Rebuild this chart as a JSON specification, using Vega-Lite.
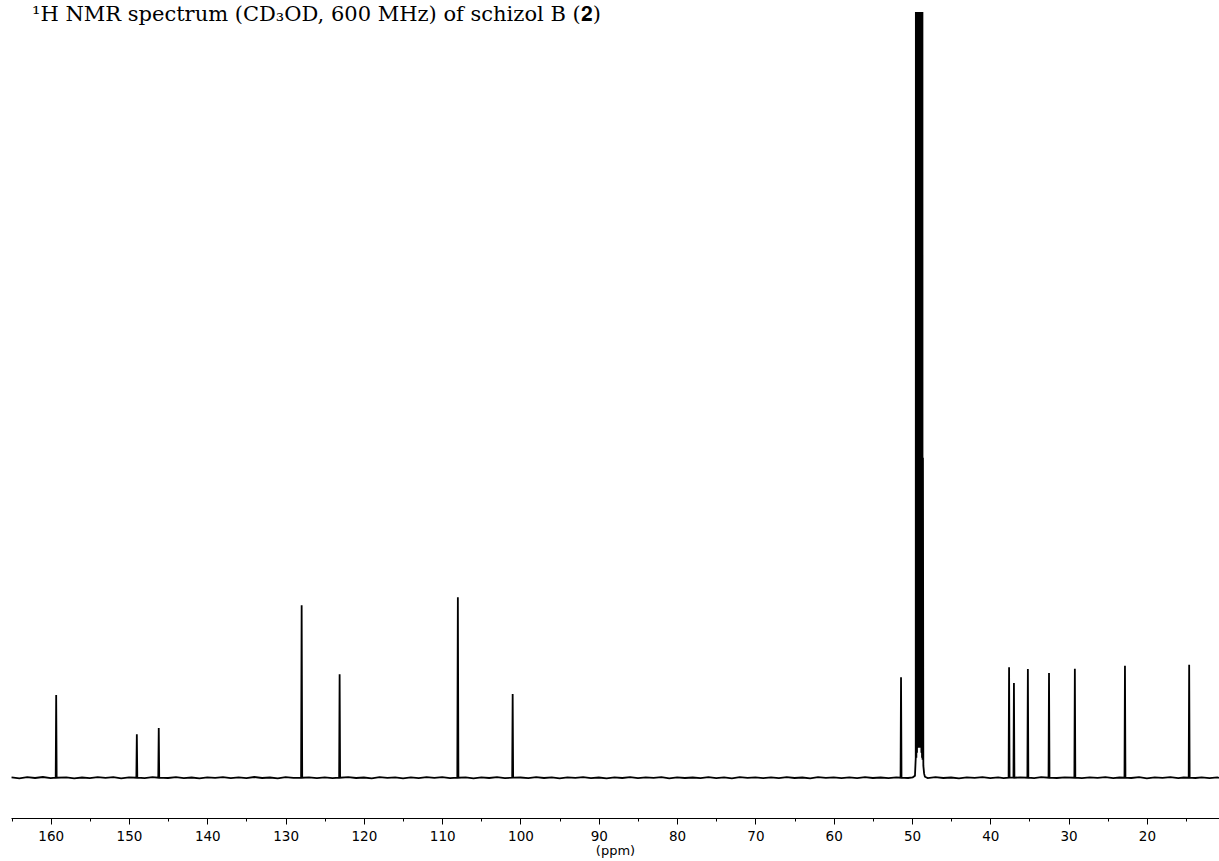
{
  "$schema": "https://vega.github.io/schema/vega-lite/v6.json",
  "width": 1208,
  "height": 806,
  "autosize": {"type": "none"},
  "padding": {"left": 11, "top": 12, "right": 0, "bottom": 43},
  "background": "white",
  "config": {"view": {"stroke": null}},
  "title": {
    "text": "¹H NMR spectrum (CD₃OD, 600 MHz) of schizol B (𝟐)",
    "anchor": "start",
    "frame": "group",
    "orient": "top",
    "baseline": "alphabetic",
    "offset": 0,
    "dy": 30,
    "dx": 21,
    "font": "DejaVu Serif",
    "fontSize": 21,
    "fontWeight": "normal",
    "color": "black"
  },
  "data": {
    "values": [
      {"ppm": 165, "i": 0.3}, {"ppm": 164, "i": -0.6}, {"ppm": 163, "i": 0.5}, {"ppm": 162, "i": -0.3}, {"ppm": 161, "i": 0.7}, {"ppm": 160, "i": -0.5},
      {"ppm": 159.36, "i": 0}, {"ppm": 159.3, "i": 82.7}, {"ppm": 159.24, "i": 0},
      {"ppm": 158, "i": 0.4}, {"ppm": 157, "i": -0.7}, {"ppm": 156, "i": 0.2}, {"ppm": 155, "i": -0.4}, {"ppm": 154, "i": 0.6}, {"ppm": 153, "i": -0.2}, {"ppm": 152, "i": 0.5}, {"ppm": 151, "i": -0.6}, {"ppm": 150, "i": 0.3},
      {"ppm": 149.06, "i": 0}, {"ppm": 149.0, "i": 43.4}, {"ppm": 148.94, "i": 0},
      {"ppm": 148, "i": -0.4}, {"ppm": 147, "i": 0.5},
      {"ppm": 146.26, "i": 0}, {"ppm": 146.2, "i": 49.7}, {"ppm": 146.14, "i": 0},
      {"ppm": 145, "i": -0.3}, {"ppm": 144, "i": 0.6}, {"ppm": 143, "i": -0.5}, {"ppm": 142, "i": 0.2}, {"ppm": 141, "i": -0.7}, {"ppm": 140, "i": 0.4}, {"ppm": 139, "i": -0.2}, {"ppm": 138, "i": 0.6}, {"ppm": 137, "i": -0.5}, {"ppm": 136, "i": 0.3}, {"ppm": 135, "i": -0.4}, {"ppm": 134, "i": 0.7}, {"ppm": 133, "i": -0.3}, {"ppm": 132, "i": 0.2}, {"ppm": 131, "i": -0.6}, {"ppm": 130, "i": 0.5}, {"ppm": 129, "i": -0.2},
      {"ppm": 128.02, "i": 0}, {"ppm": 127.95, "i": 172.4}, {"ppm": 127.88, "i": 0},
      {"ppm": 127, "i": 0.4}, {"ppm": 126, "i": -0.5}, {"ppm": 125, "i": 0.3}, {"ppm": 124, "i": -0.4},
      {"ppm": 123.16, "i": 0}, {"ppm": 123.1, "i": 103.4}, {"ppm": 123.04, "i": 0},
      {"ppm": 122, "i": 0.6}, {"ppm": 121, "i": -0.3}, {"ppm": 120, "i": 0.2}, {"ppm": 119, "i": -0.6}, {"ppm": 118, "i": 0.5}, {"ppm": 117, "i": -0.2}, {"ppm": 116, "i": 0.4}, {"ppm": 115, "i": -0.7}, {"ppm": 114, "i": 0.3}, {"ppm": 113, "i": -0.4}, {"ppm": 112, "i": 0.6}, {"ppm": 111, "i": -0.2}, {"ppm": 110, "i": 0.5}, {"ppm": 109, "i": -0.5},
      {"ppm": 108.07, "i": 0}, {"ppm": 108.0, "i": 180.4}, {"ppm": 107.93, "i": 0},
      {"ppm": 107, "i": 0.3}, {"ppm": 106, "i": -0.6}, {"ppm": 105, "i": 0.4}, {"ppm": 104, "i": -0.3}, {"ppm": 103, "i": 0.6}, {"ppm": 102, "i": -0.4},
      {"ppm": 101.06, "i": 0}, {"ppm": 101.0, "i": 83.7}, {"ppm": 100.94, "i": 0},
      {"ppm": 100, "i": 0.2}, {"ppm": 99, "i": -0.5}, {"ppm": 98, "i": 0.6}, {"ppm": 97, "i": -0.3}, {"ppm": 96, "i": 0.4}, {"ppm": 95, "i": -0.6}, {"ppm": 94, "i": 0.3}, {"ppm": 93, "i": -0.2}, {"ppm": 92, "i": 0.5}, {"ppm": 91, "i": -0.4}, {"ppm": 90, "i": 0.2}, {"ppm": 89, "i": -0.6}, {"ppm": 88, "i": 0.4}, {"ppm": 87, "i": -0.3}, {"ppm": 86, "i": 0.6}, {"ppm": 85, "i": -0.5}, {"ppm": 84, "i": 0.3}, {"ppm": 83, "i": -0.2}, {"ppm": 82, "i": 0.5}, {"ppm": 81, "i": -0.6}, {"ppm": 80, "i": 0.4}, {"ppm": 79, "i": -0.3}, {"ppm": 78, "i": 0.2}, {"ppm": 77, "i": -0.5}, {"ppm": 76, "i": 0.6}, {"ppm": 75, "i": -0.4}, {"ppm": 74, "i": 0.3}, {"ppm": 73, "i": -0.6}, {"ppm": 72, "i": 0.5}, {"ppm": 71, "i": -0.2}, {"ppm": 70, "i": 0.4}, {"ppm": 69, "i": -0.5}, {"ppm": 68, "i": 0.3}, {"ppm": 67, "i": -0.4}, {"ppm": 66, "i": 0.6}, {"ppm": 65, "i": -0.3}, {"ppm": 64, "i": 0.2}, {"ppm": 63, "i": -0.6}, {"ppm": 62, "i": 0.5}, {"ppm": 61, "i": -0.2}, {"ppm": 60, "i": 0.4}, {"ppm": 59, "i": -0.5}, {"ppm": 58, "i": 0.3}, {"ppm": 57, "i": -0.4}, {"ppm": 56, "i": 0.6}, {"ppm": 55, "i": -0.3}, {"ppm": 54, "i": 0.2}, {"ppm": 53, "i": -0.5}, {"ppm": 52, "i": 0.4},
      {"ppm": 51.46, "i": 0}, {"ppm": 51.4, "i": 100.4}, {"ppm": 51.34, "i": 0},
      {"ppm": 50.5, "i": -0.3}, {"ppm": 49.9, "i": 0.4}, {"ppm": 49.62, "i": 2},
      {"ppm": 49.52, "i": 20}, {"ppm": 49.48, "i": 2000}, {"ppm": 49.44, "i": 20}, {"ppm": 49.4, "i": 2000}, {"ppm": 49.36, "i": 25}, {"ppm": 49.32, "i": 2000}, {"ppm": 49.28, "i": 30}, {"ppm": 49.24, "i": 2000}, {"ppm": 49.2, "i": 30}, {"ppm": 49.16, "i": 2000}, {"ppm": 49.12, "i": 30}, {"ppm": 49.08, "i": 2000}, {"ppm": 49.04, "i": 30}, {"ppm": 49.0, "i": 2000}, {"ppm": 48.96, "i": 30}, {"ppm": 48.92, "i": 2000}, {"ppm": 48.88, "i": 30}, {"ppm": 48.84, "i": 2000}, {"ppm": 48.8, "i": 25}, {"ppm": 48.76, "i": 2000}, {"ppm": 48.72, "i": 20}, {"ppm": 48.69, "i": 2000},
      {"ppm": 48.65, "i": 18}, {"ppm": 48.6, "i": 320}, {"ppm": 48.55, "i": 12}, {"ppm": 48.45, "i": 4}, {"ppm": 48.35, "i": 1},
      {"ppm": 48, "i": -0.4}, {"ppm": 47, "i": 0.5}, {"ppm": 46, "i": -0.3}, {"ppm": 45, "i": 0.2}, {"ppm": 44, "i": -0.6}, {"ppm": 43, "i": 0.4}, {"ppm": 42, "i": -0.2}, {"ppm": 41, "i": 0.5}, {"ppm": 40, "i": -0.4}, {"ppm": 39, "i": 0.3}, {"ppm": 38.3, "i": -0.5},
      {"ppm": 37.66, "i": 0}, {"ppm": 37.6, "i": 110.4}, {"ppm": 37.54, "i": 0},
      {"ppm": 37.04, "i": 0}, {"ppm": 36.98, "i": 94.7}, {"ppm": 36.92, "i": 0},
      {"ppm": 36.2, "i": 0.3},
      {"ppm": 35.26, "i": 0}, {"ppm": 35.2, "i": 108.7}, {"ppm": 35.14, "i": 0},
      {"ppm": 34.4, "i": -0.4}, {"ppm": 33.5, "i": 0.5},
      {"ppm": 32.56, "i": 0}, {"ppm": 32.5, "i": 104.7}, {"ppm": 32.44, "i": 0},
      {"ppm": 31.5, "i": -0.3}, {"ppm": 30.5, "i": 0.4},
      {"ppm": 29.26, "i": 0}, {"ppm": 29.2, "i": 109}, {"ppm": 29.14, "i": 0},
      {"ppm": 28.3, "i": -0.5}, {"ppm": 27.3, "i": 0.3}, {"ppm": 26.3, "i": -0.2}, {"ppm": 25.3, "i": 0.6}, {"ppm": 24.3, "i": -0.4}, {"ppm": 23.5, "i": 0.2},
      {"ppm": 22.86, "i": 0}, {"ppm": 22.8, "i": 112}, {"ppm": 22.74, "i": 0},
      {"ppm": 22, "i": -0.3}, {"ppm": 21, "i": 0.5}, {"ppm": 20, "i": -0.6}, {"ppm": 19, "i": 0.3}, {"ppm": 18, "i": -0.2}, {"ppm": 17, "i": 0.5}, {"ppm": 16, "i": -0.4}, {"ppm": 15.3, "i": 0.2},
      {"ppm": 14.66, "i": 0}, {"ppm": 14.6, "i": 113}, {"ppm": 14.54, "i": 0},
      {"ppm": 13.8, "i": -0.3}, {"ppm": 13, "i": 0.4}, {"ppm": 12, "i": -0.5}, {"ppm": 11, "i": 0.3}, {"ppm": 10.8, "i": -0.2}
    ]
  },
  "mark": {"type": "line", "color": "black", "strokeWidth": 1.8, "clip": true, "interpolate": "linear"},
  "encoding": {
    "x": {
      "field": "ppm",
      "type": "quantitative",
      "scale": {"domain": [165.07, 10.79], "nice": false, "zero": false},
      "axis": {
        "orient": "bottom",
        "title": "(ppm)",
        "titleFont": "DejaVu Sans",
        "titleFontSize": 13,
        "titleFontWeight": "normal",
        "titleColor": "black",
        "titlePadding": 2,
        "values": [165, 160, 155, 150, 145, 140, 135, 130, 125, 120, 115, 110, 105, 100, 95, 90, 85, 80, 75, 70, 65, 60, 55, 50, 45, 40, 35, 30, 25, 20, 15],
        "labelExpr": "datum.value % 10 == 0 ? datum.label : ''",
        "labelOverlap": false,
        "labelFlush": false,
        "labelFont": "DejaVu Sans",
        "labelFontSize": 13.5,
        "labelColor": "black",
        "labelPadding": 5,
        "tickSize": {"condition": {"test": "datum.value % 10 == 0", "value": 6}, "value": 3},
        "tickColor": "black",
        "tickWidth": 1,
        "domainColor": "black",
        "domainWidth": 1,
        "grid": false
      }
    },
    "y": {
      "field": "i",
      "type": "quantitative",
      "scale": {"domain": [-40.3, 765.7], "nice": false, "zero": false},
      "axis": null
    }
  }
}
